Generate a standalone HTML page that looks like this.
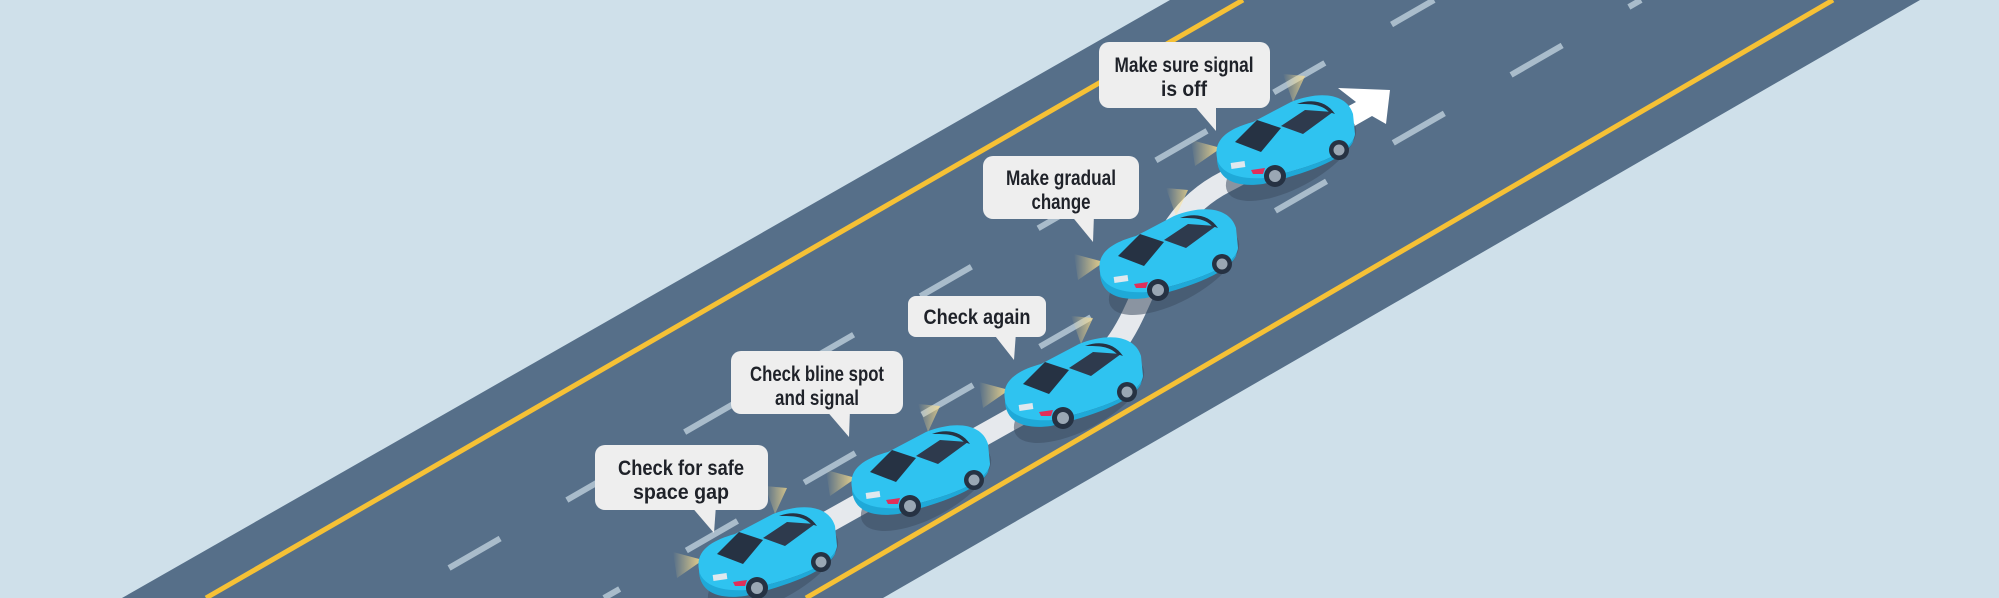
<!DOCTYPE html>
<html><head><meta charset="utf-8">
<style>
html,body{margin:0;padding:0;background:#cfe0ea;width:1999px;height:598px;overflow:hidden;}
svg{display:block;overflow:hidden}
text{font-family:"Liberation Sans Narrow","Liberation Sans",sans-serif;font-weight:bold;fill:#1f2229;}
</style></head>
<body>
<svg width="1999" height="598" viewBox="0 0 1999 598" xmlns="http://www.w3.org/2000/svg">
<defs>
<linearGradient id="glow" x1="1" y1="0" x2="0" y2="0">
<stop offset="0" stop-color="#ffe08a" stop-opacity="0.9"/>
<stop offset="1" stop-color="#ffe08a" stop-opacity="0"/>
</linearGradient>
<g id="car">
<ellipse cx="8" cy="22" rx="72" ry="30" fill="#3e4e63" opacity="0.55" transform="rotate(-28 8 22)"/>
<polygon points="-62,12 -92,4 -88,30" fill="url(#glow)"/>
<polygon points="10,-34 0,-62 22,-60" fill="url(#glow)" opacity="0.8"/>
<path d="M-66,22 C-70,2 -52,-8 -30,-14 L8,-34 C38,-46 64,-42 70,-22 L72,-2 C70,14 42,28 -18,42 C-48,48 -66,40 -66,22 Z" fill="#2fc3f0"/>
<path d="M-66,22 C-64,34 -50,44 -18,42 C42,28 70,14 72,-2 L70,6 C62,22 30,36 -20,48 C-50,52 -66,42 -66,22 Z" fill="#1fa9d8"/>
<path d="M-48,6 L-26,-16 L-2,-8 L-22,16 Z" fill="#263243"/>
<path d="M-2,-10 L22,-26 L50,-24 L20,-2 Z" fill="#2e3a4d"/>
<path d="M14,-32 C30,-38 44,-34 52,-22 L46,-24 C38,-32 28,-32 14,-32 Z" fill="#263243"/>
<rect x="-52" y="26" width="14" height="6" fill="#dfe8ee" transform="rotate(-8 -45 29)"/>
<path d="M-32,34 L-18,32 L-20,38 L-30,38 Z" fill="#e0305a"/>
<circle cx="-8" cy="40" r="11" fill="#263243"/><circle cx="-8" cy="40" r="6" fill="#9aa7b4"/>
<circle cx="56" cy="14" r="10" fill="#263243"/><circle cx="56" cy="14" r="5.5" fill="#9aa7b4"/>
</g>
</defs>
<rect width="1999" height="598" fill="#cfe0ea"/>
<polygon points="1170,0 1920,0 883,598 122,598" fill="#566f89"/>
<line x1="1243" y1="0" x2="206" y2="598" stroke="#f6c135" stroke-width="5"/>
<line x1="1833" y1="0" x2="806" y2="598" stroke="#f6c135" stroke-width="5"/>
<line x1="1434" y1="0" x2="397" y2="598" stroke="#a9bccb" stroke-width="6" stroke-dasharray="59 77" stroke-dashoffset="10"/>
<line x1="1641" y1="0" x2="604" y2="598" stroke="#a9bccb" stroke-width="6" stroke-dasharray="59 77" stroke-dashoffset="45"/>
<path d="M760,560 L1060,392 C1120,358 1130,320 1148,282 C1165,240 1180,205 1225,182 L1350,116" fill="none" stroke="#ffffff" stroke-opacity="0.85" stroke-width="22"/>
<polygon points="1338,88 1390,90 1386,124 1372,116 1344,132 1334,114 1356,102" fill="#ffffff"/>
<use href="#car" x="765" y="548"/>
<use href="#car" x="918" y="466"/>
<use href="#car" x="1071" y="378"/>
<use href="#car" x="1166" y="250"/>
<use href="#car" x="1283" y="136"/>
<g fill="#eeeeee">
<rect x="595" y="445" width="173" height="65" rx="10"/><polygon points="690,505 716,505 714,533"/>
<rect x="731" y="351" width="172" height="63" rx="10"/><polygon points="825,409 850,409 849,437"/>
<rect x="908" y="296" width="138" height="41" rx="8"/><polygon points="992,332 1016,332 1014,360"/>
<rect x="983" y="156" width="156" height="63" rx="10"/><polygon points="1070,214 1094,214 1093,242"/>
<rect x="1099" y="42" width="171" height="66" rx="10"/><polygon points="1192,103 1216,103 1216,131"/>
</g>
<g font-size="21" text-anchor="middle">
<text x="681" y="475" textLength="126" lengthAdjust="spacingAndGlyphs">Check for safe</text><text x="681" y="499" textLength="96" lengthAdjust="spacingAndGlyphs">space gap</text>
<text x="817" y="381" textLength="134" lengthAdjust="spacingAndGlyphs">Check bline spot</text><text x="817" y="405" textLength="84" lengthAdjust="spacingAndGlyphs">and signal</text>
<text x="977" y="324" textLength="107" lengthAdjust="spacingAndGlyphs">Check again</text>
<text x="1061" y="185" textLength="110" lengthAdjust="spacingAndGlyphs">Make gradual</text><text x="1061" y="209" textLength="59" lengthAdjust="spacingAndGlyphs">change</text>
<text x="1184" y="72" textLength="139" lengthAdjust="spacingAndGlyphs">Make sure signal</text><text x="1184" y="96" textLength="46" lengthAdjust="spacingAndGlyphs">is off</text>
</g>
</svg>
</body></html>
